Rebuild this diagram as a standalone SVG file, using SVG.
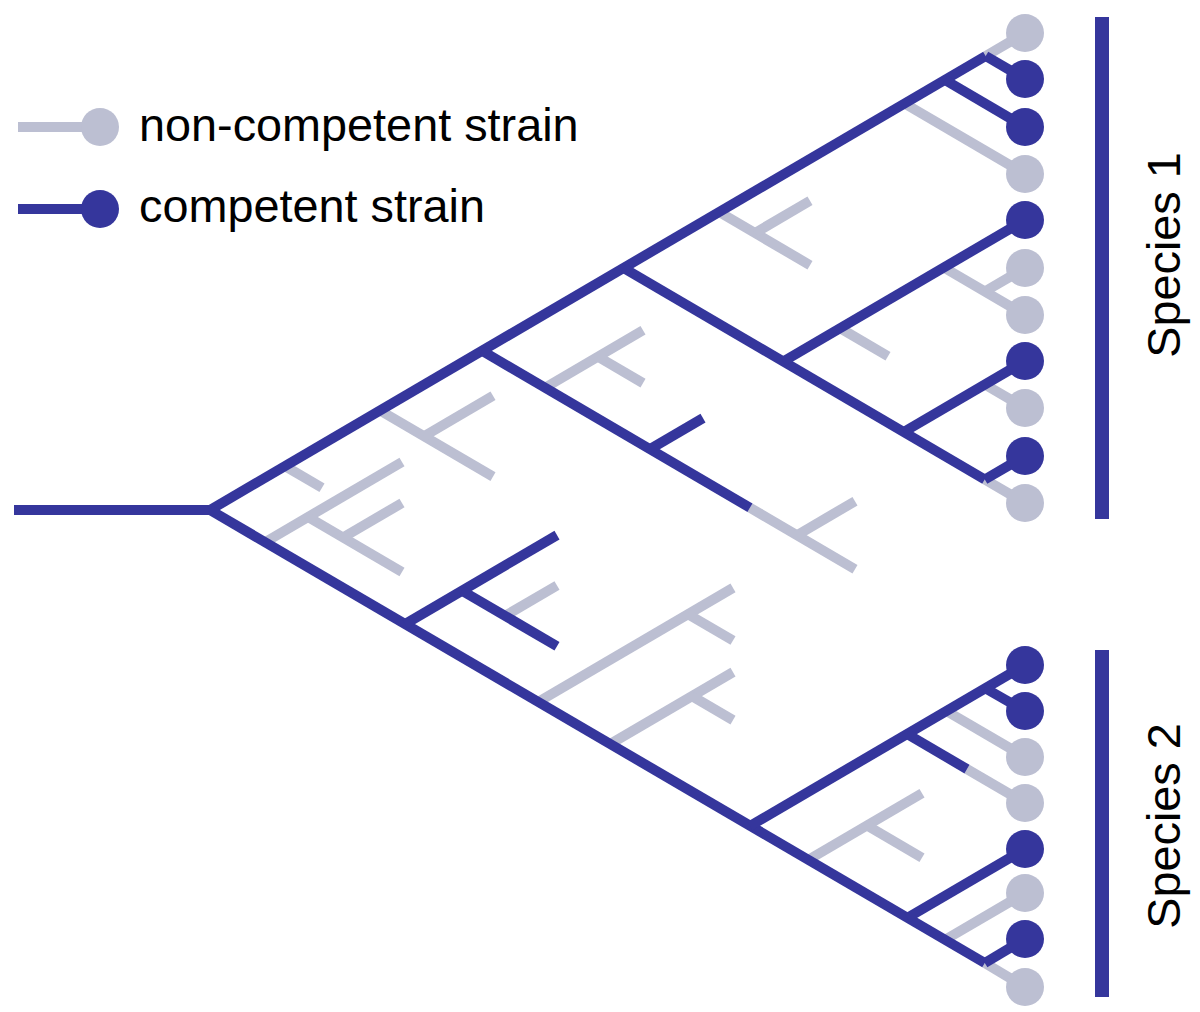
<svg xmlns="http://www.w3.org/2000/svg" width="1200" height="1012" viewBox="0 0 1200 1012">
<style>
.b{stroke:#35369c;stroke-width:10;fill:none;stroke-linecap:butt}
.g{stroke:#bcbfd2;stroke-width:10;fill:none;stroke-linecap:butt}
.cb{fill:#35369c}
.cg{fill:#bcbfd2}
.t{font-family:"Liberation Sans",Arial,sans-serif;font-size:46.8px;fill:#000}
.bar{fill:#35369c}
</style>
<rect width="1200" height="1012" fill="#fff"/>
<g id="legend">
<line class="g" x1="18" y1="127" x2="100" y2="127"/>
<circle class="cg" cx="100" cy="127" r="19"/>
<text class="t" x="139" y="141">non-competent strain</text>
<line class="b" x1="18" y1="209" x2="100" y2="209"/>
<circle class="cb" cx="100" cy="209" r="19"/>
<text class="t" x="139" y="222">competent strain</text>
</g>
<g id="connectors">
<line class="g" x1="985.7" y1="56" x2="1025" y2="33"/>
<line class="g" x1="904.5" y1="103.5" x2="1025" y2="174"/>
<line class="g" x1="720" y1="212.5" x2="810" y2="265.2"/>
<line class="g" x1="755" y1="233" x2="810" y2="200.8"/>
<line class="g" x1="984.8" y1="479.5" x2="1025" y2="503"/>
<line class="g" x1="840" y1="328.1" x2="888" y2="356.2"/>
<line class="g" x1="943.8" y1="267.5" x2="1025" y2="315"/>
<line class="g" x1="984.8" y1="291.5" x2="1025" y2="268"/>
<line class="g" x1="984.8" y1="384.5" x2="1025" y2="408"/>
<line class="g" x1="750" y1="507.7" x2="855" y2="569.2"/>
<line class="g" x1="797" y1="535.2" x2="855" y2="501.2"/>
<line class="g" x1="545" y1="387.7" x2="643" y2="330.3"/>
<line class="g" x1="598" y1="356.7" x2="643" y2="383.1"/>
<line class="g" x1="380" y1="410.5" x2="493" y2="476.6"/>
<line class="g" x1="424" y1="436.2" x2="493" y2="395.8"/>
<line class="g" x1="285" y1="466.1" x2="322" y2="487.8"/>
<line class="g" x1="265" y1="542.2" x2="402" y2="462"/>
<line class="g" x1="308" y1="517" x2="402" y2="572"/>
<line class="g" x1="343" y1="537.5" x2="402" y2="503"/>
<line class="g" x1="505" y1="615.9" x2="557" y2="585.5"/>
<line class="g" x1="538" y1="702" x2="733" y2="587.9"/>
<line class="g" x1="688" y1="614.2" x2="733" y2="640.5"/>
<line class="g" x1="610" y1="744.1" x2="733" y2="672.1"/>
<line class="g" x1="692" y1="696.1" x2="733" y2="720.1"/>
<line class="g" x1="808" y1="860" x2="922" y2="793.3"/>
<line class="g" x1="867" y1="825.5" x2="922" y2="857.7"/>
<line class="g" x1="946.4" y1="711" x2="1025" y2="757"/>
<line class="g" x1="967" y1="769.1" x2="1025" y2="803"/>
<line class="g" x1="944.7" y1="940" x2="1025" y2="893"/>
<line class="g" x1="984.8" y1="963" x2="1025" y2="987"/>
<line class="b" x1="14" y1="510" x2="210" y2="510"/>
<line class="b" x1="210" y1="510" x2="985.7" y2="56"/>
<line class="b" x1="985.7" y1="56" x2="1025" y2="79"/>
<line class="b" x1="945" y1="80" x2="1025" y2="127"/>
<line class="b" x1="623.5" y1="268" x2="984.8" y2="479.5"/>
<line class="b" x1="984.8" y1="479.5" x2="1025" y2="456"/>
<line class="b" x1="783.2" y1="361.5" x2="1025" y2="220"/>
<line class="b" x1="903.7" y1="432" x2="1025" y2="361"/>
<line class="b" x1="482" y1="350.8" x2="750" y2="507.7"/>
<line class="b" x1="650" y1="449.1" x2="703" y2="418.1"/>
<line class="b" x1="210" y1="510" x2="984.8" y2="963"/>
<line class="b" x1="405" y1="624.1" x2="557" y2="535.1"/>
<line class="b" x1="462" y1="590.7" x2="557" y2="646.3"/>
<line class="b" x1="749.9" y1="826" x2="1025" y2="665"/>
<line class="b" x1="907.1" y1="734" x2="967" y2="769.1"/>
<line class="b" x1="984.8" y1="688" x2="1025" y2="711"/>
<line class="b" x1="907.1" y1="918" x2="1025" y2="849"/>
<line class="b" x1="984.8" y1="963" x2="1025" y2="939"/>
</g>
<g id="species1-leaves">
<circle id="s1-l1" class="cg" cx="1025" cy="33" r="19"/>
<circle id="s1-l2" class="cb" cx="1025" cy="79" r="19"/>
<circle id="s1-l3" class="cb" cx="1025" cy="127" r="19"/>
<circle id="s1-l4" class="cg" cx="1025" cy="174" r="19"/>
<circle id="s1-l5" class="cb" cx="1025" cy="220" r="19"/>
<circle id="s1-l6" class="cg" cx="1025" cy="268" r="19"/>
<circle id="s1-l7" class="cg" cx="1025" cy="315" r="19"/>
<circle id="s1-l8" class="cb" cx="1025" cy="361" r="19"/>
<circle id="s1-l9" class="cg" cx="1025" cy="408" r="19"/>
<circle id="s1-l10" class="cb" cx="1025" cy="456" r="19"/>
<circle id="s1-l11" class="cg" cx="1025" cy="503" r="19"/>
</g>
<g id="species2-leaves">
<circle id="s2-l1" class="cb" cx="1025" cy="665" r="19"/>
<circle id="s2-l2" class="cb" cx="1025" cy="711" r="19"/>
<circle id="s2-l3" class="cg" cx="1025" cy="757" r="19"/>
<circle id="s2-l4" class="cg" cx="1025" cy="803" r="19"/>
<circle id="s2-l5" class="cb" cx="1025" cy="849" r="19"/>
<circle id="s2-l6" class="cg" cx="1025" cy="893" r="19"/>
<circle id="s2-l7" class="cb" cx="1025" cy="939" r="19"/>
<circle id="s2-l8" class="cg" cx="1025" cy="987" r="19"/>
</g>
<g id="species1">
<rect class="bar" x="1095" y="17" width="14" height="502"/>
<text class="t" x="1180" y="255" text-anchor="middle" transform="rotate(-90 1180 255)">Species 1</text>
</g>
<g id="species2">
<rect class="bar" x="1095" y="650" width="14" height="347"/>
<text class="t" x="1180" y="826" text-anchor="middle" transform="rotate(-90 1180 826)">Species 2</text>
</g>
</svg>
